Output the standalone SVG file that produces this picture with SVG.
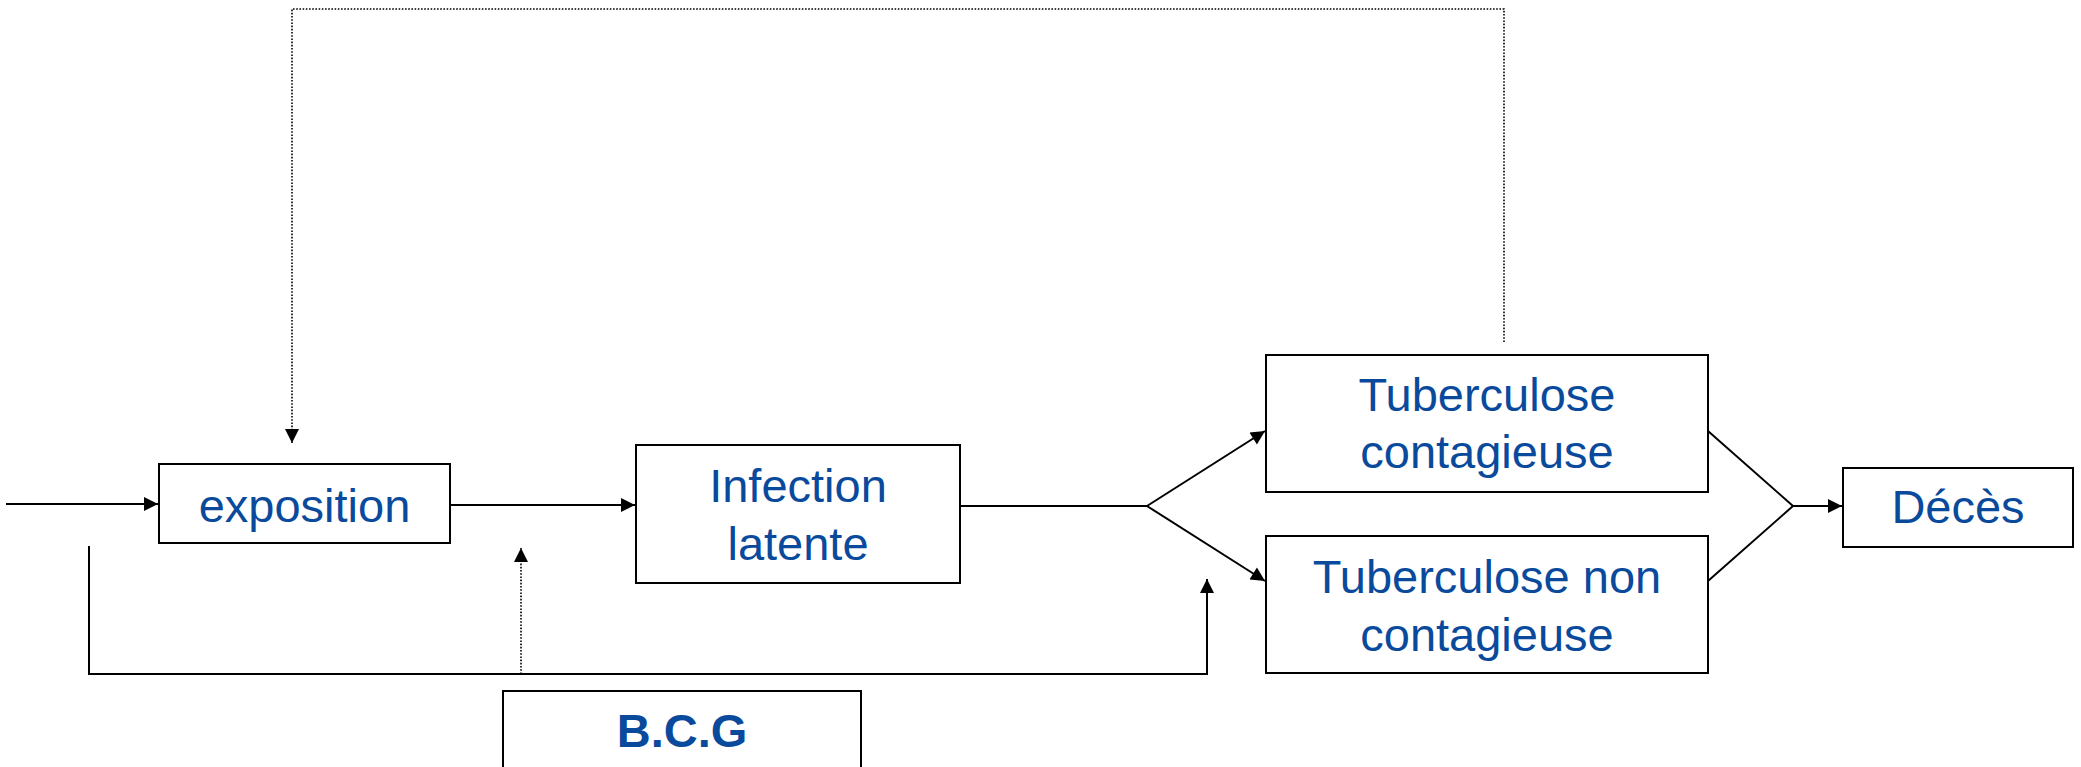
<svg xmlns="http://www.w3.org/2000/svg" width="2081" height="767" viewBox="0 0 2081 767">
<style>
.box{fill:#fff;stroke:#000;stroke-width:2}
.lbl{font-family:"Liberation Sans",Arial,sans-serif;font-size:47px;fill:#0A4A9C;text-anchor:middle}
.bold{font-weight:bold}
.ln{fill:none;stroke:#000;stroke-width:2}
.dot{fill:none;stroke:#000;stroke-width:1.6;stroke-dasharray:1.6 1.6}
</style>
<defs>
<marker id="ah" viewBox="0 0 10 10" markerWidth="15" markerHeight="14" refX="10" refY="5" orient="auto" markerUnits="userSpaceOnUse">
<path d="M0,0 L10,5 L0,10 z" fill="#000"/>
</marker>
</defs>
<rect width="2081" height="767" fill="#fff"/>
<g id="connectors">
<path class="ln" d="M6 504 H158" marker-end="url(#ah)"/>
<path class="ln" d="M450 505 H635" marker-end="url(#ah)"/>
<path class="ln" d="M960 506 H1147"/>
<path class="ln" d="M1147 506 L1265 431" marker-end="url(#ah)"/>
<path class="ln" d="M1147 506 L1265 581" marker-end="url(#ah)"/>
<path class="ln" d="M1708 431 L1793 506 L1708 581"/>
<path class="ln" d="M1793 506 H1842" marker-end="url(#ah)"/>
<path class="ln" d="M89 546 V674 H1207 V579" marker-end="url(#ah)"/>
<path class="dot" d="M521 674 V548" marker-end="url(#ah)"/>
<path class="dot" d="M1504 342 V9 H292 V443" marker-end="url(#ah)"/>
</g>
<g id="exposition">
<rect class="box" x="159" y="464" width="291" height="79"/>
<text class="lbl" x="304.5" y="522">exposition</text>
</g>
<g id="infection">
<rect class="box" x="636" y="445" width="324" height="138"/>
<text class="lbl" x="798" y="502">Infection</text>
<text class="lbl" x="798" y="560">latente</text>
</g>
<g id="tb-contagieuse">
<rect class="box" x="1266" y="355" width="442" height="137"/>
<text class="lbl" x="1487" y="411">Tuberculose</text>
<text class="lbl" x="1487" y="468">contagieuse</text>
</g>
<g id="tb-non-contagieuse">
<rect class="box" x="1266" y="536" width="442" height="137"/>
<text class="lbl" x="1487" y="593">Tuberculose non</text>
<text class="lbl" x="1487" y="651">contagieuse</text>
</g>
<g id="deces">
<rect class="box" x="1843" y="468" width="230" height="79"/>
<text class="lbl" x="1958" y="523">Décès</text>
</g>
<g id="bcg">
<rect class="box" x="503" y="691" width="358" height="100"/>
<text class="lbl bold" x="682" y="747">B.C.G</text>
</g>
</svg>
